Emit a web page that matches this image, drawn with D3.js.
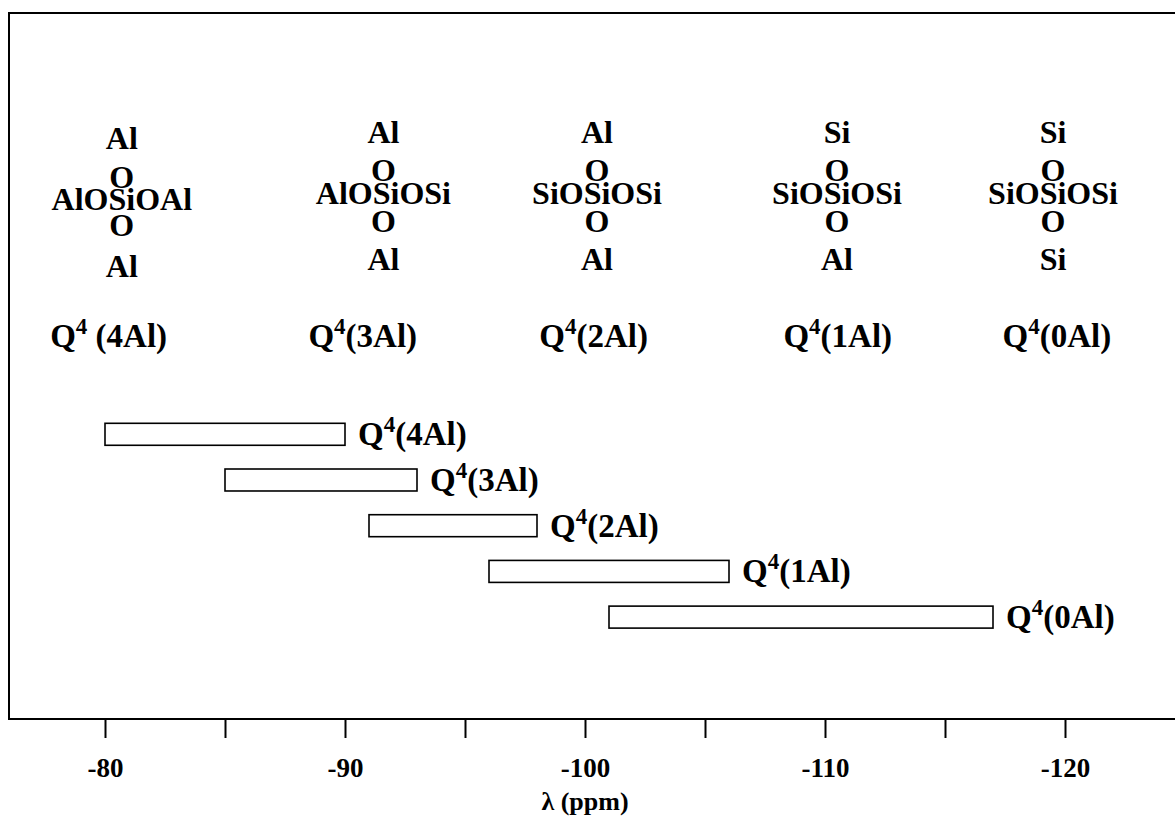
<!DOCTYPE html>
<html>
<head>
<meta charset="utf-8">
<script src="https://cdn.jsdelivr.net/npm/d3@7"></script>
<style>
  html, body { margin: 0; padding: 0; background: #fff; }
  svg { display: block; }
  text { font-family: "Liberation Serif", "Times New Roman", serif; font-weight: bold; fill: #000; }
</style>
</head>
<body>
<svg id="chart" width="1175" height="816"></svg>
<script>
// Q4 silicon environments and their 29Si chemical shift ranges (ppm)
const categories = ["4Al", "3Al", "2Al", "1Al", "0Al"];
const shiftStart = [-80, -85, -91, -96, -101];
const shiftEnd   = [-90, -93, -98, -106, -117];

// structural sketch above each range: top, middle row, bottom neighbours
const topAtom    = ["Al", "Al", "Al", "Si", "Si"];
const middleRow  = ["AlOSiOAl", "AlOSiOSi", "SiOSiOSi", "SiOSiOSi", "SiOSiOSi"];
const bottomAtom = ["Al", "Al", "Al", "Al", "Si"];
const structureCenter = [-80.7, -91.6, -100.5, -110.5, -119.5];
const headingCenter   = [-80.15, -90.74, -100.36, -110.53, -119.66];

// x axis ticks
const majorTicks = [-80, -90, -100, -110, -120];
const minorTicks = [-85, -95, -105, -115];
const tickLabels = ["-80", "-90", "-100", "-110", "-120"];
const axisTitle = "λ (ppm)";

const svg = d3.select("#chart");

const frame = { left: 9, top: 13, bottom: 719 };
const x = d3.scaleLinear().domain([-76, -125]).range([frame.left, frame.left + 49 * 24]);

const y = d3.scaleBand()
  .domain(categories)
  .range([423.3, 628.1])
  .paddingInner(0.519)
  .paddingOuter(0);

// plot frame (right side runs off the page)
svg.append("path")
  .attr("d", `M${x.range()[1]},${frame.top} H${frame.left} V${frame.bottom} H${x.range()[1]}`)
  .attr("fill", "none")
  .attr("stroke", "#000")
  .attr("stroke-width", 2);

// bottom axis
const axis = d3.axisBottom(x)
  .tickValues(majorTicks.concat(minorTicks))
  .tickSize(19)
  .tickFormat(d => {
    const i = majorTicks.indexOf(d);
    return i >= 0 ? tickLabels[i] : "";
  });

const gAxis = svg.append("g")
  .attr("transform", `translate(0,${frame.bottom})`)
  .call(axis);
gAxis.select(".domain").remove();
gAxis.selectAll(".tick line").attr("stroke", "#000").attr("stroke-width", 2);
gAxis.selectAll(".tick text")
  .attr("y", 0)
  .attr("dy", 0)
  .attr("transform", "translate(0,58)")
  .style("font-family", "'Liberation Serif', 'Times New Roman', serif")
  .style("font-weight", "bold")
  .style("font-size", "27px");

svg.append("text")
  .attr("x", x(-100))
  .attr("y", 810)
  .attr("text-anchor", "middle")
  .style("font-size", "26px")
  .text(axisTitle);

// shift range bars
svg.append("g").selectAll("rect")
  .data(categories)
  .join("rect")
  .attr("x", (d, i) => x(shiftStart[i]))
  .attr("y", d => y(d))
  .attr("width", (d, i) => x(shiftEnd[i]) - x(shiftStart[i]))
  .attr("height", y.bandwidth())
  .attr("fill", "#fff")
  .attr("stroke", "#000")
  .attr("stroke-width", 1.6);

// Q4(nAl) label with superscript 4
function qLabel(sel, name, gap) {
  sel.append("tspan").text("Q");
  sel.append("tspan").attr("dy", -13).style("font-size", "23px").text("4");
  sel.append("tspan").attr("dy", 13).text((gap ? "\u00a0" : "") + "(" + name + ")");
}

// labels next to bars
svg.append("g").selectAll("text")
  .data(categories)
  .join("text")
  .attr("x", (d, i) => x(shiftEnd[i]) + 13)
  .attr("y", d => y(d) + y.bandwidth())
  .style("font-size", "33px")
  .each(function(d) { qLabel(d3.select(this), d, false); });

// structure sketches
const rowsDefault = [143, 181, 204, 232, 270];
const rowsFirst   = [149, 188, 210, 236, 277];
const gStruct = svg.append("g");
categories.forEach((c, i) => {
  const cx = x(structureCenter[i]);
  const rows = i === 0 ? rowsFirst : rowsDefault;
  const lines = [topAtom[i], "O", middleRow[i], "O", bottomAtom[i]];
  lines.forEach((t, k) => {
    gStruct.append("text")
      .attr("x", cx)
      .attr("y", rows[k])
      .attr("text-anchor", "middle")
      .style("font-size", "32px")
      .text(t);
  });
  const q = gStruct.append("text")
    .attr("x", x(headingCenter[i]))
    .attr("y", 347)
    .attr("text-anchor", "middle")
    .style("font-size", "33px");
  qLabel(q, c, i === 0);
});
</script>
</body>
</html>
